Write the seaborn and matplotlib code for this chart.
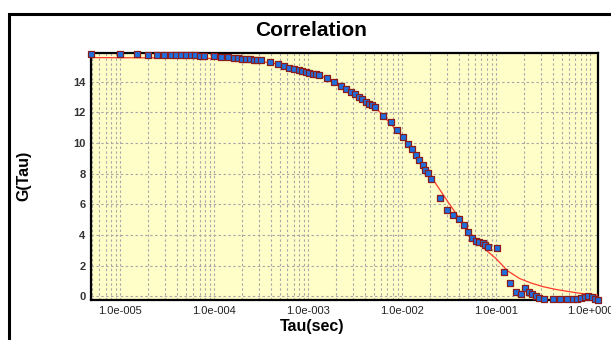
import numpy as np
import pandas as pd
import matplotlib
matplotlib.use("Agg")
import matplotlib.pyplot as plt
from matplotlib.patches import Rectangle
from matplotlib.ticker import LogLocator, FixedLocator, NullFormatter
import seaborn as sns

# ---- data ----
tau = [4.91e-6, 1.0e-5, 1.517e-5, 1.985e-5, 2.475e-5, 2.938e-5, 3.488e-5, 3.942e-5,
       4.455e-5, 5.036e-5, 5.69e-5, 6.28e-5, 7.10e-5, 7.83e-5, 1.0e-4, 1.187e-4,
       1.409e-4, 1.632e-4, 1.800e-4, 1.986e-4, 2.190e-4, 2.415e-4, 2.663e-4, 2.867e-4,
       3.162e-4, 3.942e-4, 4.797e-4, 5.555e-4, 6.28e-4, 7.10e-4, 8.02e-4, 8.63e-4,
       9.52e-4, 1.025e-3, 1.130e-3, 1.216e-3, 1.309e-3, 1.592e-3, 1.890e-3, 2.244e-3,
       2.536e-3, 2.867e-3, 3.162e-3, 3.488e-3, 3.753e-3, 4.140e-3, 4.455e-3, 4.797e-3,
       5.16e-3, 6.28e-3, 7.64e-3, 8.85e-3, 1.025e-2, 1.158e-2, 1.278e-2, 1.409e-2,
       1.517e-2, 1.673e-2, 1.757e-2, 1.890e-2, 2.035e-2, 2.536e-2, 3.012e-2, 3.488e-2,
       4.04e-2, 4.567e-2, 5.036e-2, 5.555e-2, 6.126e-2, 6.594e-2, 7.27e-2, 7.64e-2,
       8.22e-2, 0.1025, 0.1216, 0.1409, 0.1632, 0.1845, 0.2035, 0.2244,
       0.2415, 0.2663, 0.2867, 0.3241, 0.4041, 0.4797, 0.569, 0.6594,
       0.727, 0.802, 0.885, 0.952, 1.05, 1.13, 1.216]
g_tau = [15.84, 15.80, 15.80, 15.75, 15.74, 15.74, 15.73, 15.73,
         15.73, 15.73, 15.72, 15.72, 15.70, 15.69, 15.66, 15.63,
         15.60, 15.55, 15.53, 15.52, 15.50, 15.47, 15.45, 15.43,
         15.40, 15.30, 15.15, 15.03, 14.92, 14.86, 14.79, 14.71,
         14.64, 14.60, 14.53, 14.49, 14.42, 14.23, 13.99, 13.75,
         13.53, 13.35, 13.20, 13.03, 12.86, 12.70, 12.57, 12.46,
         12.33, 11.78, 11.37, 10.85, 10.37, 9.95, 9.63, 9.24,
         8.87, 8.56, 8.24, 8.02, 7.63, 6.39, 5.60, 5.27,
         5.01, 4.64, 4.17, 3.78, 3.59, 3.56, 3.46, 3.32,
         3.19, 3.17, 1.55, 0.84, 0.25, 0.11, 0.53, 0.27,
         0.13, -0.02, -0.15, -0.17, -0.17, -0.18, -0.18, -0.18,
         -0.17, -0.10, -0.05, -0.02, -0.07, -0.17, -0.25]

fit_tau = [4.9e-6, 3.16e-5, 1.0e-4, 1.78e-4, 3.16e-4, 5.62e-4, 1.0e-3, 1.78e-3,
           3.16e-3, 5.62e-3, 1.0e-2, 1.33e-2, 1.78e-2, 2.37e-2, 3.16e-2, 4.22e-2,
           5.62e-2, 7.50e-2, 0.1, 0.133, 0.178, 0.237, 0.316, 0.422,
           0.562, 0.750, 1.0, 1.216]
fit_g = [15.58, 15.56, 15.52, 15.45, 15.33, 15.08, 14.68, 14.10,
         13.30, 12.10, 10.45, 9.45, 8.35, 7.20, 6.05, 4.95,
         3.95, 3.10, 2.45, 1.65, 1.15, 0.85, 0.62, 0.45,
         0.32, 0.20, 0.12, 0.08]

xtick_vals = [1e-5, 1e-4, 1e-3, 1e-2, 1e-1, 1e0]
xtick_labels = ["1.0e-005", "1.0e-004", "1.0e-003", "1.0e-002", "1.0e-001", "1.0e+000"]
ytick_vals = [0, 2, 4, 6, 8, 10, 12, 14]

title = "Correlation"
xlabel = "Tau(sec)"
ylabel = "G(Tau)"

# ---- figure ----
sns.set_style("white")
plt.rcParams["font.family"] = ["Liberation Sans", "DejaVu Sans"]

W, H = 611, 340
fig = plt.figure(figsize=(W / 100, H / 100), dpi=100)
fig.patch.set_facecolor("white")

# outer frame
fig.patches.append(Rectangle((8.5 / W, -0.1), 1.2, 1 - 13.5 / H + 0.1,
                             transform=fig.transFigure, fill=False,
                             edgecolor="black", linewidth=2.2))

ax = fig.add_axes([91 / W, 1 - 299.5 / H, (598 - 91) / W, (299.5 - 53) / H])
ax.set_facecolor("#FFFDC8")

df_pts = pd.DataFrame({"tau": tau, "g": g_tau})
df_fit = pd.DataFrame({"tau": fit_tau, "g": fit_g})

ax.set_xscale("log")
sns.lineplot(data=df_fit, x="tau", y="g", ax=ax, color="#FF3A2A", linewidth=0.9,
             zorder=3, legend=False)
sns.scatterplot(data=df_pts, x="tau", y="g", ax=ax, marker="s", s=17,
                color="#1E6FE0", edgecolor="#8A1C1C", linewidth=0.9,
                zorder=4, clip_on=False, legend=False)

ax.set_xlim(4.9e-6, 1.216)
ax.set_ylim(-0.22, 15.88)

ax.xaxis.set_major_locator(FixedLocator(xtick_vals))
ax.set_xticklabels(xtick_labels)
ax.xaxis.set_minor_locator(LogLocator(base=10, subs=np.arange(2, 10), numticks=20))
ax.xaxis.set_minor_formatter(NullFormatter())
ax.set_yticks(ytick_vals)
ax.set_yticklabels([str(v) for v in ytick_vals])

grid_kw = dict(color="#A8A8A8", linestyle=(0, (2.2, 2.2)), linewidth=0.8)
ax.grid(True, which="major", axis="both", **grid_kw)
ax.grid(True, which="minor", axis="x", **grid_kw)
ax.set_axisbelow(True)

ax.tick_params(axis="both", which="both", direction="out", length=3, width=0.6,
               color="#555555")
ax.tick_params(axis="x", which="major", labelsize=8, labelcolor="#222222", pad=2)
ax.tick_params(axis="y", which="major", labelsize=8, labelcolor="#333333", pad=1)
for lbl in ax.get_yticklabels():
    lbl.set_fontweight("bold")

for sp in ax.spines.values():
    sp.set_visible(True)
    sp.set_color("black")
    sp.set_linewidth(1.6)

ax.set_xlabel("")
ax.set_ylabel("")

fig.text(311 / W, 1 - 30 / H, title, ha="center", va="center",
         fontsize=15, fontweight="bold", color="black")
fig.text(312 / W, 1 - 327 / H, xlabel, ha="center", va="center",
         fontsize=11.5, fontweight="bold", color="black")
fig.text(24 / W, 1 - 176 / H, ylabel, ha="center", va="center", rotation=90,
         fontsize=11.5, fontweight="bold", color="black")

fig.savefig("out.png", dpi=100)
